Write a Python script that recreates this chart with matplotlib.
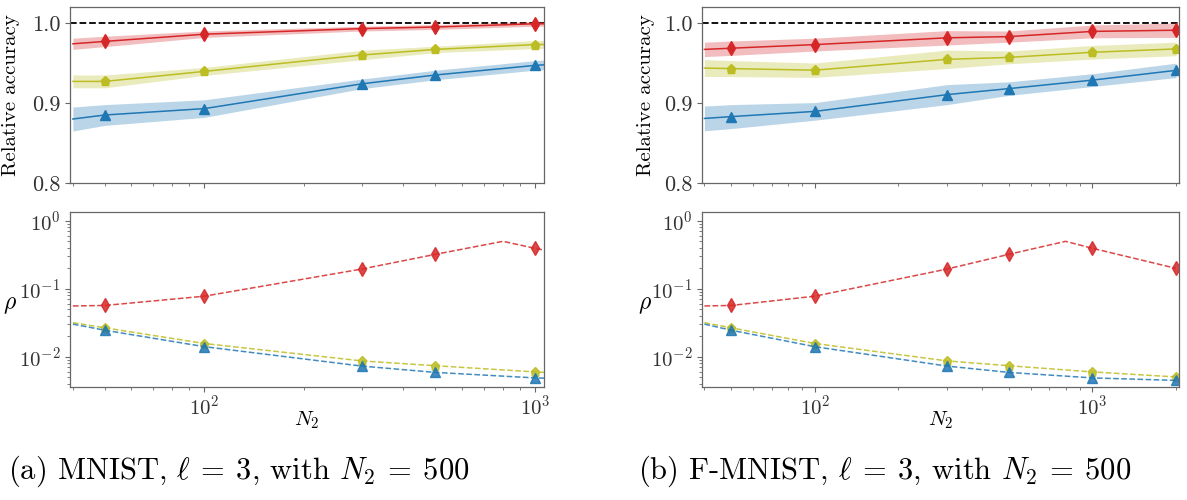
import matplotlib
matplotlib.use("Agg")
import matplotlib.pyplot as plt

plt.rcParams['font.family'] = 'cmr10'
plt.rcParams['mathtext.fontset'] = 'cm'
plt.rcParams['axes.unicode_minus'] = False
plt.rcParams['axes.formatter.use_mathtext'] = True

# x values (N_2); first point has no marker
n2 = [40, 50, 100, 300, 500, 1000, 2000]
n2_red_rho = [40, 50, 100, 300, 500, 800, 1000, 2000]

# MNIST relative accuracy (mean, spread)
mnist_red = [0.974, 0.977, 0.986, 0.993, 0.995, 0.999, 0.999]
mnist_red_sd = [0.007, 0.0065, 0.004, 0.003, 0.003, 0.003, 0.003]
mnist_yel = [0.927, 0.927, 0.9395, 0.960, 0.967, 0.973, 0.975]
mnist_yel_sd = [0.008, 0.008, 0.005, 0.006, 0.004, 0.005, 0.005]
mnist_blu = [0.880, 0.885, 0.893, 0.924, 0.935, 0.947, 0.955]
mnist_blu_sd = [0.015, 0.013, 0.011, 0.006, 0.006, 0.006, 0.006]

# F-MNIST relative accuracy
fmnist_red = [0.967, 0.9685, 0.973, 0.9815, 0.983, 0.9895, 0.991]
fmnist_red_sd = [0.009, 0.009, 0.008, 0.009, 0.007, 0.008, 0.009]
fmnist_yel = [0.9437, 0.943, 0.941, 0.9546, 0.957, 0.9634, 0.9676]
fmnist_yel_sd = [0.0105, 0.010, 0.009, 0.0115, 0.008, 0.0085, 0.0085]
fmnist_blu = [0.8807, 0.883, 0.8895, 0.9105, 0.918, 0.9286, 0.9408]
fmnist_blu_sd = [0.0155, 0.015, 0.011, 0.0125, 0.0085, 0.008, 0.009]

# rho (same for both panels)
rho_red = [0.056, 0.057, 0.078, 0.196, 0.322, 0.50, 0.395, 0.20]
rho_yel = [0.0318, 0.0267, 0.0157, 0.0087, 0.0074, 0.0060, 0.00506]
rho_blu = [0.0303, 0.0246, 0.0141, 0.0073, 0.0059, 0.0049, 0.0045]

captions = [r'(a) MNIST, $\ell\:=\:3$, with $N_2\:=\:500$',
            r'(b) F-MNIST, $\ell\:=\:3$, with $N_2\:=\:500$']

RED, YEL, BLU = '#d62728', '#bcbd22', '#1f77b4'
W, H = 1187, 500

fig = plt.figure(figsize=(W / 100, H / 100), dpi=100)


def style(ax, size):
    for s in ax.spines.values():
        s.set_color('0.4')
        s.set_linewidth(0.9)
    ax.tick_params(which='both', colors='0.4', labelcolor='0.2', labelsize=size)
    ax.tick_params(axis='x', which='both', pad=2)


def panel(x0, x1, xmax, acc, caption, cap_x, lab_x):
    left = x0 / W
    width = (x1 - x0) / W
    ax = fig.add_axes([left, 1 - 183 / H, width, 176 / H])
    ax2 = fig.add_axes([left, 1 - 387 / H, width, 175 / H])

    ax.axhline(1.0, color='k', ls='--', lw=1.3, zorder=1)
    for (m, sd), c, mk, ms in zip(acc, [RED, YEL, BLU], ['d', 'p', '^'], [7, 6.5, 6.5]):
        lo = [a - b for a, b in zip(m, sd)]
        hi = [a + b for a, b in zip(m, sd)]
        ax.fill_between(n2, lo, hi, color=c, alpha=0.3, lw=0)
        ax.plot(n2, m, color=c, lw=1.1, marker=mk, ms=ms, markevery=list(range(1, len(n2))))
    ax.set_xscale('log')
    ax.set_xlim(39.2, xmax)
    ax.set_ylim(0.8, 1.02)
    ax.set_yticks([0.8, 0.9, 1.0])
    ax.set_yticklabels(['0.8', '0.9', '1.0'])
    ax.tick_params(axis='x', which='both', labelbottom=False)
    ax.set_ylabel('Relative accuracy', fontsize=15)
    ax.yaxis.set_label_coords((lab_x - x0) / (x1 - x0), 0.5)
    style(ax, 16)

    ax2.plot(n2_red_rho, rho_red, color=RED, ls='--', lw=1.1, alpha=0.85,
             marker='d', ms=7, markevery=[1, 2, 3, 4, 6, 7])
    ax2.plot(n2, rho_yel, color=YEL, ls='--', lw=1.1, alpha=0.85,
             marker='p', ms=6.5, markevery=list(range(1, len(n2))))
    ax2.plot(n2, rho_blu, color=BLU, ls='--', lw=1.1, alpha=0.85,
             marker='^', ms=6.5, markevery=list(range(1, len(n2))))
    ax2.set_xscale('log')
    ax2.set_yscale('log')
    ax2.set_xlim(39.2, xmax)
    ax2.set_ylim(0.0036, 1.35)
    ax2.set_xlabel(r'$N_2$', fontsize=15)
    ax2.xaxis.set_label_coords(0.5, -0.13)
    ax2.set_ylabel(r'$\rho$', fontsize=17, rotation=0, va='center', ha='center')
    ax2.yaxis.set_label_coords((lab_x - 10 - x0) / (x1 - x0), 0.47)
    style(ax2, 15)

    fig.text(cap_x / W, 1 - 471 / H, caption, fontsize=22, ha='left', va='center')


panel(70, 544, 1065, [(mnist_red, mnist_red_sd), (mnist_yel, mnist_yel_sd), (mnist_blu, mnist_blu_sd)],
      captions[0], 8, 20)
panel(702, 1179, 2050, [(fmnist_red, fmnist_red_sd), (fmnist_yel, fmnist_yel_sd), (fmnist_blu, fmnist_blu_sd)],
      captions[1], 638, 655)

fig.savefig('out.png', dpi=100)
